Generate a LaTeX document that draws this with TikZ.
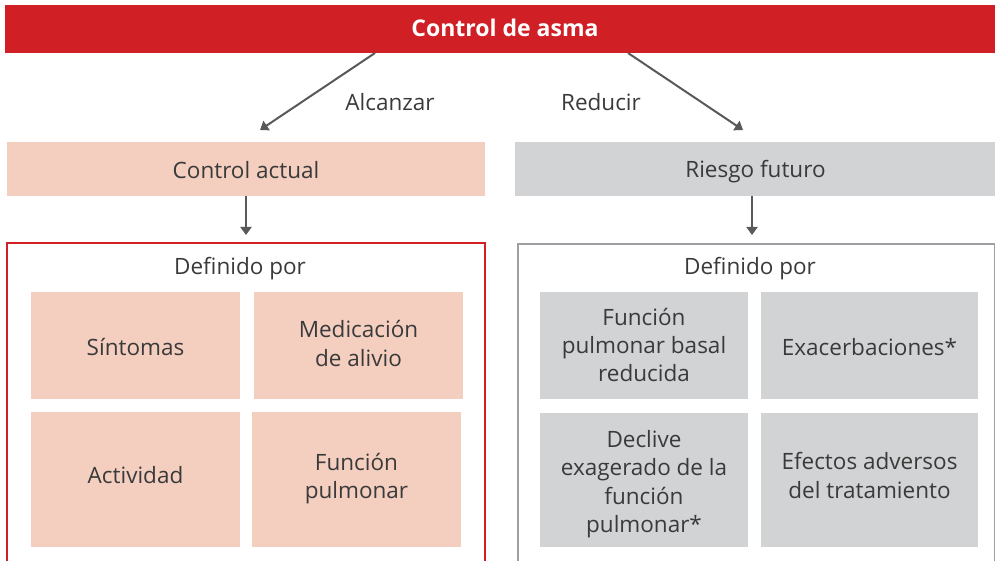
\documentclass[tikz,border=0pt]{standalone}
\usepackage{fontspec}
\setmainfont{Open Sans}
\usetikzlibrary{arrows.meta}
\definecolor{asmared}{HTML}{D11F26}
\definecolor{peach}{HTML}{F4CFC0}
\definecolor{lgray}{HTML}{D1D3D4}
\definecolor{txt}{HTML}{3A3A3A}
\definecolor{arr}{HTML}{58595B}
\definecolor{frgray}{HTML}{9D9FA2}
\begin{document}
\begin{tikzpicture}[x=1pt,y=-1pt,
  every node/.style={inner sep=0pt, outer sep=0pt, text=txt, text depth=0pt,
                     font=\fontsize{22.5}{28.3}\selectfont},
  arrow/.style={draw=arr, line width=2pt, -{Triangle[length=8pt,width=11pt]}},
  pbox/.style={fill=peach, align=center},
  gbox/.style={fill=lgray, align=center},
  th/.style={text height=#1pt}]
\useasboundingbox (0,0) rectangle (995,561);
\clip (0,0) rectangle (995,561);

% title
\node[fill=asmared, minimum width=992pt, minimum height=48pt] (title) at (501,29) {};
\node[th=16.5, text=white, font=\bfseries\fontsize{23}{26}\selectfont] (titletext) at (505,28.5) {Control de asma};

% level 2
\node[pbox, th=20, minimum width=478pt, minimum height=54pt] (ca) at (246,169) {Control actual};
\node[gbox, th=18, minimum width=481pt, minimum height=54pt] (rf) at (755.5,169) {Riesgo futuro};

\coordinate (s1) at (375,53);
\coordinate (e1) at (260,130);
\coordinate (s2) at (628,53);
\coordinate (e2) at (743,130);
\draw[arrow] (s1) -- (e1);
\draw[arrow] (s2) -- (e2);
\node[th=16] (alc) at (390,103) {Alcanzar};
\node[th=16] (red) at (601,103) {Reducir};

% down arrows
\coordinate (d1) at (246,235);
\coordinate (d2) at (752,235);
\draw[arrow] (ca.south -| d1) -- (d1);
\draw[arrow] (rf.south -| d2) -- (d2);

% frames
\draw[asmared, line width=2pt] (7,650) -- (7,243.5) -- (484.5,243.5) -- (484.5,650);
\draw[frgray, line width=2pt] (518,650) -- (518,244.5) -- (994.5,244.5) -- (994.5,650);

\node[th=16] (def1) at (240,266) {Definido por};
\node[th=16] (def2) at (750,266) {Definido por};

% left inner boxes
\node[pbox, th=19, minimum width=209pt, minimum height=107pt] (sin) at (135.5,345.5) {Síntomas};
\node[pbox, th=41.3, minimum width=209pt, minimum height=107pt] (med) at (358.5,345.5) {Medicación\\de alivio};
\node[pbox, th=7, minimum width=209pt, minimum height=135pt] (act) at (135.5,479.5) {Actividad};
\node[pbox, th=38.3, minimum width=209pt, minimum height=135pt] (fp) at (356.5,479.5) {Función\\pulmonar};

% right inner boxes
\node[gbox, th=72.6, minimum width=208pt, minimum height=107pt] (fpb) at (644,345.5) {Función\\pulmonar basal\\reducida};
\node[gbox, th=19, minimum width=217pt, minimum height=107pt] (exa) at (869.5,345.5) {Exacerbaciones*};
\node[gbox, th=104.9, minimum width=208pt, minimum height=134pt] (dec) at (644,480) {Declive\\exagerado de la\\función\\pulmonar*};
\node[gbox, th=36.3, minimum width=217pt, minimum height=134pt] (efe) at (869.5,480) {Efectos adversos\\del tratamiento};
\end{tikzpicture}
\end{document}
